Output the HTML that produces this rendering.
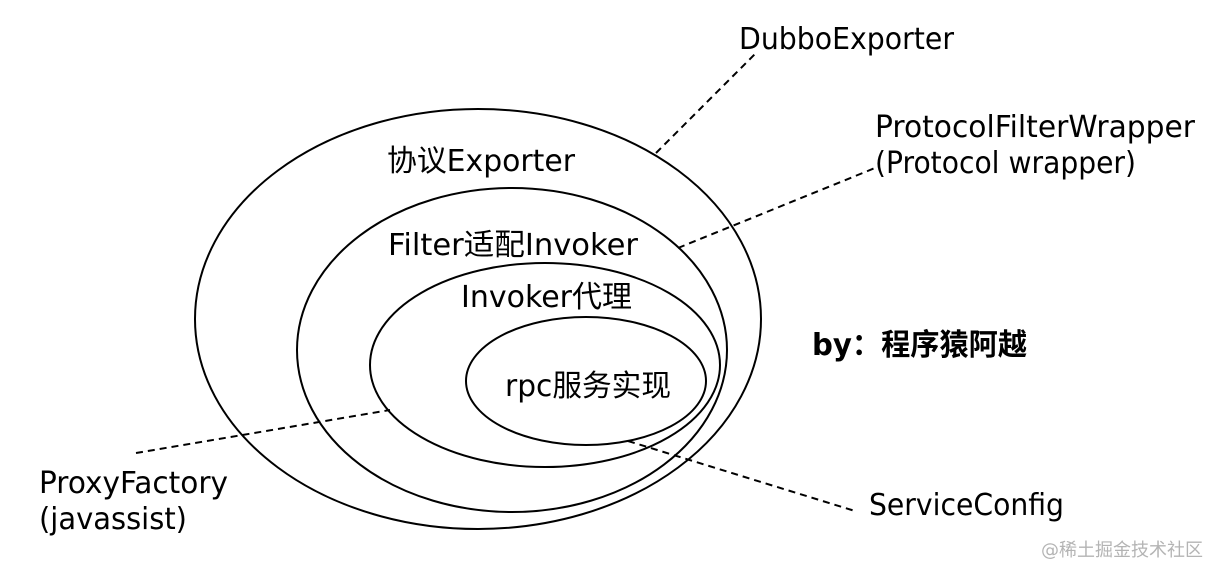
<!DOCTYPE html>
<html><head><meta charset="utf-8">
<style>html,body{margin:0;padding:0;background:#fff;width:1220px;height:578px;overflow:hidden}
svg{display:block}
text{font-family:"DejaVu Sans","WenQuanYi Zen Hei","Noto Sans CJK SC",sans-serif;font-size:30px;fill:#000}
</style></head><body>
<svg width="1220" height="578" viewBox="0 0 1220 578" xmlns="http://www.w3.org/2000/svg">
<g fill="none" stroke="#000" stroke-width="2">
<ellipse cx="478" cy="319" rx="283" ry="210"/>
<ellipse cx="512" cy="350" rx="215" ry="162"/>
<ellipse cx="545" cy="365" rx="175" ry="102"/>
<ellipse cx="586" cy="381" rx="120" ry="64"/>
<g stroke-dasharray="7 5">
<line x1="656" y1="153" x2="755" y2="54"/>
<line x1="678" y1="248" x2="875" y2="168"/>
<line x1="136" y1="453" x2="390" y2="410"/>
<line x1="628" y1="441" x2="855" y2="511"/>
</g></g>
<text x="739" y="49" textLength="215" lengthAdjust="spacingAndGlyphs">DubboExporter</text>
<text x="875" y="137" textLength="320" lengthAdjust="spacingAndGlyphs">ProtocolFilterWrapper</text>
<text x="875" y="173" textLength="261" lengthAdjust="spacingAndGlyphs">(Protocol wrapper)</text>
<text x="387" y="171" textLength="188" lengthAdjust="spacingAndGlyphs">协议Exporter</text>
<text x="388" y="255" textLength="250" lengthAdjust="spacingAndGlyphs">Filter适配Invoker</text>
<text x="461" y="307" textLength="171" lengthAdjust="spacingAndGlyphs">Invoker代理</text>
<text x="505" y="396" textLength="166" lengthAdjust="spacingAndGlyphs">rpc服务实现</text>
<text x="812" y="355" textLength="215" lengthAdjust="spacingAndGlyphs" font-weight="bold">by：程序猿阿越</text>
<text x="39" y="493" textLength="189" lengthAdjust="spacingAndGlyphs">ProxyFactory</text>
<text x="39" y="529" textLength="148" lengthAdjust="spacingAndGlyphs">(javassist)</text>
<text x="869" y="515" textLength="195" lengthAdjust="spacingAndGlyphs">ServiceConfig</text>
<text x="1041" y="556" textLength="162" lengthAdjust="spacingAndGlyphs" style="font-size:18px;fill:#b4b4b4">@稀土掘金技术社区</text>
</svg>
</body></html>
